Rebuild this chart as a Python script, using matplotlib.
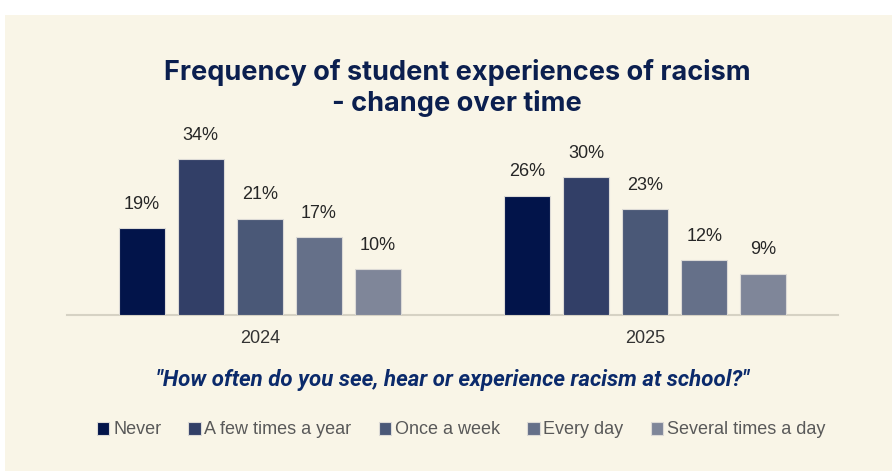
import matplotlib
matplotlib.use("Agg")
import matplotlib.pyplot as plt
from matplotlib.patches import Rectangle
import numpy as np

years = ["2024", "2025"]
categories = ["Never", "A few times a year", "Once a week", "Every day", "Several times a day"]
values = {
    "Never": [19, 26],
    "A few times a year": [34, 30],
    "Once a week": [21, 23],
    "Every day": [17, 12],
    "Several times a day": [10, 9],
}
colors = ["#02144a", "#323f67", "#4a5877", "#657089", "#7f8699"]

title = "Frequency of student experiences of racism\n- change over time"
subtitle = "\"How often do you see, hear or experience racism at school?\""

W, H = 892, 471
fig = plt.figure(figsize=(W / 100, H / 100), dpi=100, facecolor="white")
cream = "#f9f5e7"
fig.patches.append(Rectangle((5 / W, 0), 1 - 5 / W, 1 - 15 / H, transform=fig.transFigure,
                             facecolor=cream, edgecolor="none", zorder=-10))

ax = fig.add_axes([67 / W, (H - 315) / H, (838 - 67) / W, 183.6 / H])
ax.set_facecolor("none")

x = np.arange(len(years))
step = 0.153
width = 0.12
for i, cat in enumerate(categories):
    offs = (i - 2) * step
    bars = ax.bar(x + offs, values[cat], width=width, color=colors[i], edgecolor="#dcdad6",
                  linewidth=0.8, label=cat, zorder=3)
    for b, v in zip(bars, values[cat]):
        ax.annotate(f"{v}%", (b.get_x() + b.get_width() / 2, v), xytext=(0, 11),
                    textcoords="offset points", ha="center", va="bottom",
                    fontsize=13, color="#262626", family=["Liberation Sans", "DejaVu Sans"])

ax.set_xlim(-0.5, 1.5)
ax.set_ylim(0, 40)
ax.set_yticks([])
ax.set_xticks(x)
ax.set_xticklabels(years, fontsize=13, color="#333333", family=["Liberation Sans", "DejaVu Sans"])
ax.tick_params(axis="x", length=0, pad=11)
for s in ["top", "right", "left"]:
    ax.spines[s].set_visible(False)
ax.spines["bottom"].set_color("#d6d2c4")
ax.spines["bottom"].set_linewidth(1.5)

fig.text(457 / W, 1 - 88 / H, title, ha="center", va="center", fontsize=19.5, fontweight="bold",
         color="#0b1f4f", family=["Inter", "DejaVu Sans"], linespacing=1.15)
fig.text(453 / W, 1 - 380 / H, subtitle, ha="center", va="center", fontsize=16,
         fontweight="bold", style="italic", color="#0b2a6b", family=["Roboto", "DejaVu Sans"])

leg = fig.legend(loc="center", bbox_to_anchor=(461 / W, 1 - 430 / H), ncol=5, frameon=False,
                 handlelength=0.7, handleheight=0.7, handletextpad=0.2, columnspacing=1.5,
                 prop={"family": ["Liberation Sans", "DejaVu Sans"], "size": 13})
for t in leg.get_texts():
    t.set_color("#595959")

fig.savefig("out.png", dpi=100, facecolor="white")
